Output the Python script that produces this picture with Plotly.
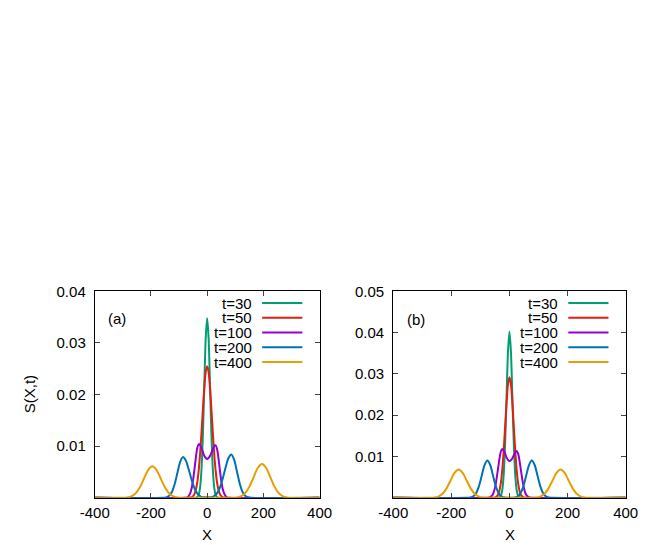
import plotly.graph_objects as go

# ---------------- data: panel (a) ----------------
a_t30_x = [-400, -40, -35, -30, -25, -20, -15, -10, -5, 0, 5, 10, 15, 20, 25, 30, 35, 40, 400]
a_t30_y = [0, 0, 0.00014, 0.00059, 0.00205, 0.00567, 0.01254, 0.02212, 0.03108, 0.0348,
           0.03108, 0.02212, 0.01254, 0.00567, 0.00205, 0.00059, 0.00014, 0, 0]

a_t50_x = [-400, -65, -60, -55, -50, -45, -40, -35, -30, -25, -20, -15, -10, -5, 0,
           5, 10, 15, 20, 25, 30, 35, 40, 45, 50, 55, 60, 65, 400]
a_t50_y = [0, 0, 0.00005, 0.00014, 0.00034, 0.00077, 0.0016, 0.00306, 0.00537, 0.00864, 0.01277,
           0.01729, 0.02145, 0.02442, 0.0255, 0.02442, 0.02145, 0.01729, 0.01277, 0.00864,
           0.00537, 0.00306, 0.0016, 0.00077, 0.00034, 0.00014, 0.00005, 0, 0]

a_t100_x = [-400, -80, -70, -65, -60, -55, -50, -45, -40, -35, -30, -25, -20, -15, -10, -5, 0,
            5, 10, 15, 20, 25, 30, 35, 40, 45, 50, 55, 60, 65, 70, 80, 400]
a_t100_y = [0, 0, 0.0001, 0.0004, 0.0009, 0.0019, 0.0035, 0.0056, 0.0079, 0.0097, 0.0104,
            0.0102, 0.0096, 0.0088, 0.0081, 0.0077, 0.0075, 0.0077, 0.0081, 0.0087, 0.0094,
            0.0100, 0.0102, 0.0095, 0.0078, 0.0055, 0.0034, 0.0018, 0.0009, 0.0004, 0.0001, 0, 0]

a_t200_x = [-400, -156, -146, -136, -126, -116, -106, -96, -86, -76, -66, -56, -46, -36, -26, -16, 0,
            16, 26, 36, 46, 56, 66, 76, 86, 96, 106, 116, 126, 136, 146, 156, 400]
a_t200_y = [0, 0, 0.00009, 0.00035, 0.00107, 0.00257, 0.00479, 0.00697, 0.0079, 0.00724, 0.00558,
            0.00362, 0.00197, 0.0009, 0.00035, 0.00012, 0.0001, 0.00012, 0.00037, 0.00096, 0.00209,
            0.00385, 0.00594, 0.0077, 0.0084, 0.00741, 0.00509, 0.00273, 0.00114, 0.00037, 0.0001, 0, 0]

a_t400_x = [-400, -300, -285, -270, -255, -240, -225, -210, -195, -180, -165, -150, -135, -120, -105, -90, 0,
            90, 105, 120, 135, 150, 165, 180, 195, 210, 225, 240, 255, 270, 285, 300, 400]
a_t400_y = [0, 0, 0.00007, 0.00027, 0.00083, 0.00198, 0.0037, 0.00538, 0.0061, 0.00538, 0.0037,
            0.00198, 0.00083, 0.00027, 0.00007, 0, 0, 0, 0.00007, 0.00029, 0.00088, 0.00212,
            0.00397, 0.00577, 0.00654, 0.00577, 0.00397, 0.00212, 0.00088, 0.00029, 0.00007, 0, 0]

# ---------------- data: panel (b) ----------------
b_t30_x = [-400, -40, -35, -30, -25, -20, -15, -10, -5, 0, 5, 10, 15, 20, 25, 30, 35, 40, 400]
b_t30_y = [0, 0, 0.00009, 0.00045, 0.00176, 0.00544, 0.01305, 0.02438, 0.03546, 0.0402,
           0.03546, 0.02438, 0.01305, 0.00544, 0.00176, 0.00045, 0.00009, 0, 0]

b_t50_x = [-400, -55, -50, -45, -40, -35, -30, -25, -20, -15, -10, -5, 0,
           5, 10, 15, 20, 25, 30, 35, 40, 45, 50, 55, 400]
b_t50_y = [0, 0, 0.00008, 0.00024, 0.00065, 0.00159, 0.00343, 0.00661, 0.01127, 0.0171, 0.0230,
           0.0275, 0.0292, 0.0275, 0.0230, 0.0171, 0.01127, 0.00661, 0.00343, 0.00159, 0.00065,
           0.00024, 0.00008, 0, 0]

b_t100_x = [-400, -80, -70, -65, -60, -55, -50, -45, -40, -35, -30, -25, -20, -15, -10, -5, 0,
            5, 10, 15, 20, 25, 30, 35, 40, 45, 50, 55, 60, 65, 70, 80, 400]
b_t100_y = [0, 0, 0.0001, 0.0002, 0.0005, 0.0012, 0.0024, 0.0043, 0.0067, 0.0092, 0.0111, 0.0118,
            0.0115, 0.0107, 0.0098, 0.0092, 0.0089, 0.0091, 0.0096, 0.0103, 0.0110, 0.01135,
            0.01065, 0.0088, 0.0064, 0.0041, 0.0023, 0.0011, 0.0005, 0.0002, 0.0001, 0, 0]

b_t200_x = [-400, -146, -136, -126, -116, -106, -96, -86, -76, -66, -56, -46, -36, -26, -16, 0,
            7, 17, 27, 37, 47, 57, 67, 77, 87, 97, 107, 117, 127, 137, 147, 400]
b_t200_y = [0, 0, 0.00006, 0.00028, 0.00099, 0.0026, 0.0052, 0.00788, 0.00905, 0.00788, 0.0052,
            0.0026, 0.00099, 0.00028, 0.00006, 0, 0, 0.00006, 0.00028, 0.00099, 0.0026, 0.0052,
            0.00788, 0.00905, 0.00788, 0.0052, 0.0026, 0.00099, 0.00028, 0.00006, 0, 0]

b_t400_x = [-400, -273, -259, -245, -231, -217, -203, -189, -175, -161, -147, -133, -119, -105, -91, -77, 0,
            78, 92, 106, 120, 134, 148, 162, 176, 190, 204, 218, 232, 246, 260, 274, 400]
b_t400_y = [0, 0, 0.00008, 0.0003, 0.00092, 0.00222, 0.00414, 0.00602, 0.00683, 0.00602, 0.00414,
            0.00222, 0.00092, 0.0003, 0.00008, 0, 0, 0, 0.00008, 0.0003, 0.00092, 0.00222, 0.00414,
            0.00602, 0.00683, 0.00602, 0.00414, 0.00222, 0.00092, 0.0003, 0.00008, 0, 0]

series_names = ["t=30", "t=50", "t=100", "t=200", "t=400"]
colors = ["#009e73", "#e51e10", "#9400d3", "#0072b2", "#e69f00"]

panel_a = [(a_t30_x, a_t30_y), (a_t50_x, a_t50_y), (a_t100_x, a_t100_y),
           (a_t200_x, a_t200_y), (a_t400_x, a_t400_y)]
panel_b = [(b_t30_x, b_t30_y), (b_t50_x, b_t50_y), (b_t100_x, b_t100_y),
           (b_t200_x, b_t200_y), (b_t400_x, b_t400_y)]

x_tickvals = [-400, -200, 0, 200, 400]
x_ticktext = ["-400", "-200", "0", "200", "400"]
a_ytickvals = [0.01, 0.02, 0.03, 0.04]
a_yticktext = ["0.01", "0.02", "0.03", "0.04"]
b_ytickvals = [0.01, 0.02, 0.03, 0.04, 0.05]
b_yticktext = ["0.01", "0.02", "0.03", "0.04", "0.05"]

FONT = "Liberation Sans, Arial, sans-serif"
FS = 15
OFF = 8            # default page body margin
W, H = 654 - OFF, 545 - OFF

fig = go.Figure()
for (xs, ys), name, c in zip(panel_a, series_names, colors):
    fig.add_trace(go.Scatter(x=xs, y=ys, mode="lines", name=name, xaxis="x", yaxis="y",
                             line=dict(color=c, width=2, shape="spline", smoothing=0.8),
                             showlegend=False))
for (xs, ys), name, c in zip(panel_b, series_names, colors):
    fig.add_trace(go.Scatter(x=xs, y=ys, mode="lines", name=name, xaxis="x2", yaxis="y2",
                             line=dict(color=c, width=2, shape="spline", smoothing=0.8),
                             showlegend=False))

def px_x(p):
    return (p - OFF) / W

def px_y(p):
    return (H - (p - OFF)) / H

ydom = [px_y(497), px_y(287)]
common_x = dict(range=[-400, 400], tickvals=x_tickvals, ticktext=x_ticktext,
                showline=True, linecolor="black", linewidth=1, mirror="ticks",
                ticks="inside", ticklen=5, tickcolor="#444", tickwidth=1,
                showgrid=False, zeroline=False, ticklabelstandoff=1,
                tickfont=dict(family=FONT, size=FS, color="black"))
common_y = dict(showline=True, linecolor="black", linewidth=1, mirror="ticks",
                ticks="inside", ticklen=5, tickcolor="#444", tickwidth=1,
                showgrid=False, zeroline=False, ticklabelstandoff=5,
                tickfont=dict(family=FONT, size=FS, color="black"))

fig.update_layout(
    width=W, height=H, margin=dict(l=0, r=0, t=0, b=0),
    paper_bgcolor="white", plot_bgcolor="white", showlegend=False,
    xaxis=dict(domain=[px_x(83), px_x(318)], anchor="y", **common_x),
    yaxis=dict(domain=ydom, anchor="x", range=[0, 0.04], tickvals=a_ytickvals,
               ticktext=a_yticktext, **common_y),
    xaxis2=dict(domain=[px_x(395), px_x(638)], anchor="y2", **common_x),
    yaxis2=dict(domain=ydom, anchor="x2", range=[0, 0.05], tickvals=b_ytickvals,
                ticktext=b_yticktext, **common_y),
)

annotations = []
shapes = []
rows_px = [299, 314, 329, 344, 359]
legend_cfg = [(249, 258, 300), (569, 578, 620)]
for text_end, l0, l1 in legend_cfg:
    for name, c, ry in zip(series_names, colors, rows_px):
        annotations.append(dict(x=px_x(text_end), y=px_y(ry), xref="paper", yref="paper",
                                text=name, showarrow=False, xanchor="right", yanchor="middle",
                                font=dict(family=FONT, size=FS, color="black")))
        shapes.append(dict(type="line", xref="paper", yref="paper",
                           x0=px_x(l0), x1=px_x(l1), y0=px_y(ry), y1=px_y(ry),
                           line=dict(color=c, width=2)))

def label(x, y, text, angle=0):
    annotations.append(dict(x=px_x(x), y=px_y(y), xref="paper", yref="paper", text=text,
                            showarrow=False, xanchor="center", yanchor="middle",
                            textangle=angle, font=dict(family=FONT, size=FS, color="black")))

label(106, 315, "(a)")
label(419, 316, "(b)")
label(200, 534, "X")
label(517, 534, "X")
label(15, 392, "S(X,t)", -90)

fig.update_layout(annotations=annotations, shapes=shapes)
fig.write_html("out.html")
